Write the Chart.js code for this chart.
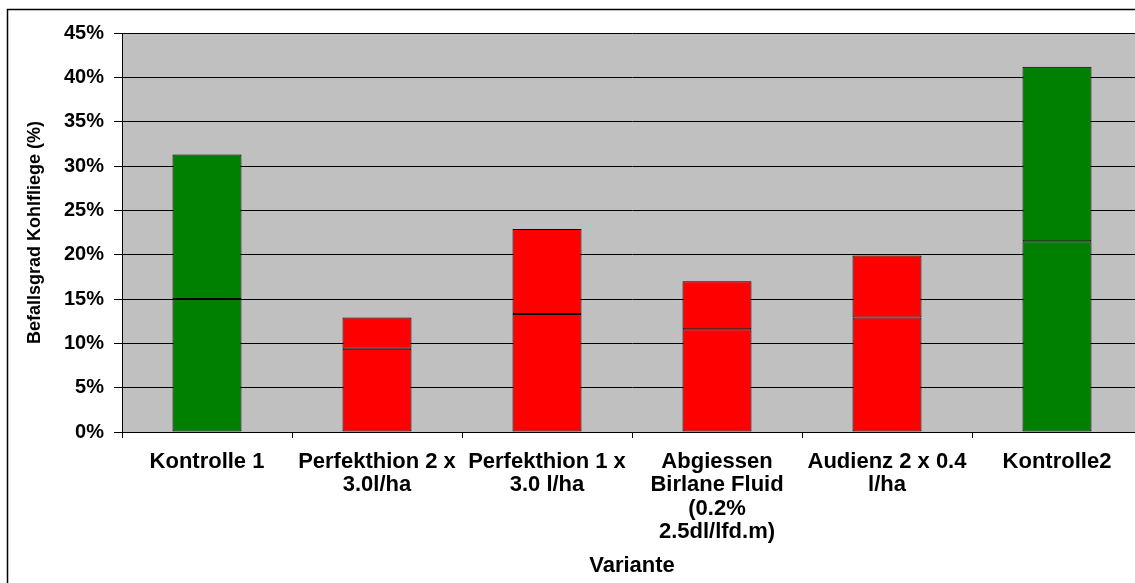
<!DOCTYPE html>
<html lang="de">
<head>
    <meta charset="utf-8">
    <title>Befallsgrad Kohlfliege</title>
    <style>
        html, body { margin: 0; padding: 0; background: #fff; overflow: hidden; }
        .wrap { position: relative; width: 1145px; height: 583px; }
    </style>
</head>
<body>
    <div class="wrap">
        <canvas id="chart" width="1145" height="583"></canvas>
    </div>
    <script src="https://cdn.jsdelivr.net/npm/chart.js@4/dist/chart.umd.min.js"></script>
    <script>
        // Varianten (x-Achse)
        const categories = [
            'Kontrolle 1',
            ['Perfekthion 2 x', '3.0l/ha'],
            ['Perfekthion 1 x', '3.0 l/ha'],
            ['Abgiessen', 'Birlane Fluid', '(0.2%', '2.5dl/lfd.m)'],
            ['Audienz 2 x 0.4', 'l/ha'],
            'Kontrolle2'
        ];
        // unterer und oberer Teil der Saeule, in %
        const lowerValues = [15.0, 9.4, 13.3, 11.6, 12.9, 21.5];
        const upperValues = [16.3, 3.5, 9.6, 5.4, 7.0, 19.7];
        const yMax = 45;
        const yStep = 5;

        const font = 'Arial, "Liberation Sans", sans-serif';
        const barColors = categories.map(c => String(c).startsWith('Kontrolle') ? '#008000' : '#ff0000');

        const frame = {
            id: 'frame',
            beforeDraw(chart) {
                const ctx = chart.ctx, a = chart.chartArea;
                ctx.save();
                ctx.fillStyle = '#c0c0c0';
                ctx.fillRect(a.left, a.top, a.right - a.left, a.bottom - a.top);
                ctx.restore();
            },
            afterDraw(chart) {
                const ctx = chart.ctx;
                ctx.save();
                ctx.strokeStyle = '#000';
                ctx.lineWidth = 1.5;
                ctx.strokeRect(7.5, 9.5, 1200, 700);
                ctx.restore();
            }
        };

        const makeSet = (label, values) => ({
            label: label,
            data: values,
            backgroundColor: barColors,
            borderColor: '#000',
            borderWidth: 1,
            borderSkipped: false,
            barPercentage: 0.406,
            categoryPercentage: 1
        });

        new Chart(document.getElementById('chart'), {
            type: 'bar',
            data: {
                labels: categories,
                datasets: [makeSet('unten', lowerValues), makeSet('oben', upperValues)]
            },
            options: {
                responsive: false,
                animation: false,
                layout: { padding: { top: 33, right: 3, left: 0, bottom: 0 } },
                plugins: { legend: { display: false }, tooltip: { enabled: false } },
                scales: {
                    x: {
                        stacked: true,
                        afterFit: s => { s.height = 151; },
                        grid: { drawOnChartArea: false, drawTicks: true, tickLength: 6, color: '#000' },
                        border: { display: true, color: '#000', width: 1 },
                        ticks: {
                            color: '#000', maxRotation: 0, autoSkip: false, padding: 12,
                            font: { family: font, size: 22, weight: 'bold', lineHeight: 1.07 }
                        },
                        title: {
                            display: true, text: 'Variante', color: '#000',
                            font: { family: font, size: 22, weight: 'bold' },
                            padding: { top: 0, bottom: 4 }
                        }
                    },
                    y: {
                        stacked: true,
                        min: 0, max: yMax,
                        afterFit: s => { s.width = 122; },
                        grid: { color: '#000', lineWidth: 1, drawTicks: true, tickLength: 8 },
                        border: { display: true, color: '#000', width: 1 },
                        ticks: {
                            stepSize: yStep, color: '#000', padding: 10,
                            font: { family: font, size: 20, weight: 'bold' },
                            callback: v => v + '%'
                        },
                        title: {
                            display: true, text: 'Befallsgrad Kohlfliege (%)', color: '#000',
                            font: { family: font, size: 18, weight: 'bold' },
                            padding: { top: 24, bottom: 0 }
                        }
                    }
                }
            },
            plugins: [frame]
        });
    </script>
</body>
</html>
